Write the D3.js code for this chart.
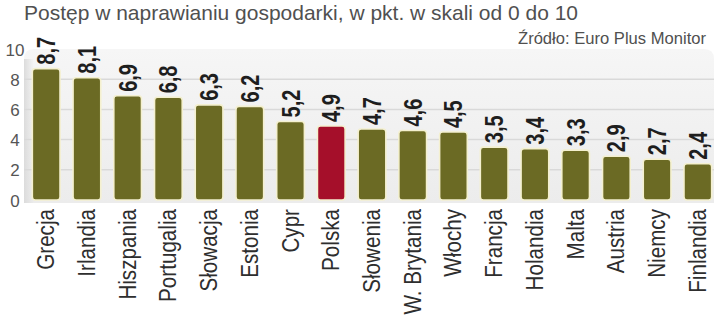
<!DOCTYPE html>
<html><head><meta charset="utf-8">
<script src="https://cdn.jsdelivr.net/npm/d3@7"></script>
<style>html,body{margin:0;padding:0;background:#fff;}svg{display:block;}</style>
</head><body>
<svg id="c" width="720" height="322"></svg>
<script>
const categories = ["Grecja","Irlandia","Hiszpania","Portugalia","Słowacja","Estonia","Cypr","Polska","Słowenia","W. Brytania","Włochy","Francja","Holandia","Malta","Austria","Niemcy","Finlandia"];
const values = [8.7,8.1,6.9,6.8,6.3,6.2,5.2,4.9,4.7,4.6,4.5,3.5,3.4,3.3,2.9,2.7,2.4];
const highlight = ["Polska"];
const yTicks = [0,2,4,6,8,10];
const title = "Postęp w naprawianiu gospodarki, w pkt. w skali od 0 do 10";
const source = "Źródło: Euro Plus Monitor";

const svg = d3.select("#c");
const sans = "'Liberation Sans',Arial,sans-serif";

const x = d3.scaleBand().domain(categories).range([25, 719]).paddingInner(0.32).paddingOuter(0.18);
const y = d3.scaleLinear().domain([0,10]).range([200,49]);

const defs = svg.append("defs");
const g1 = defs.append("linearGradient").attr("id","pg").attr("x1",0).attr("y1",0).attr("x2",0).attr("y2",1);
g1.append("stop").attr("offset","0%").attr("stop-color","#f6f6f6");
g1.append("stop").attr("offset","100%").attr("stop-color","#ececec");
const g2 = defs.append("linearGradient").attr("id","sh").attr("x1",0).attr("y1",0).attr("x2",1).attr("y2",0);
g2.append("stop").attr("offset","0%").attr("stop-color","#dcdcdc");
g2.append("stop").attr("offset","100%").attr("stop-color","#dcdcdc").attr("stop-opacity",0);

// panel
const px0 = 24, px1 = 714, py0 = y(10), py1 = y(0) + 3, r = 10;
svg.append("path")
  .attr("d", `M${px0},${py1} L${px0},${py0+r} Q${px0},${py0} ${px0+r},${py0} L${px1-r},${py0} Q${px1},${py0} ${px1},${py0+r} L${px1},${py1} Z`)
  .attr("fill","url(#pg)");
svg.append("rect").attr("x",px0).attr("y",py0+r).attr("width",10).attr("height",py1-py0-r).attr("fill","url(#sh)");

// gridlines
svg.append("g").selectAll("line").data(yTicks.filter(d => d>0 && d<10)).join("line")
  .attr("x1",px0).attr("x2",px1).attr("y1",d=>y(d)).attr("y2",d=>y(d))
  .attr("stroke","#d9d9d9").attr("stroke-width",1.5);

// y axis labels
const yAxis = d3.axisLeft(y).tickValues(yTicks).tickSize(0).tickFormat(d3.format("d"));
const ya = svg.append("g").attr("transform","translate(22,0)").call(yAxis);
ya.select(".domain").remove();
ya.selectAll("text").attr("font-family",sans).attr("font-size",17)
  .attr("fill","#555").attr("text-anchor","middle").attr("x",-7).attr("dy","0.36em");

// bars
svg.append("g").selectAll("rect").data(categories).join("rect")
  .attr("x", d => x(d)).attr("width", x.bandwidth())
  .attr("y", (d,i) => y(values[i])).attr("height", (d,i) => y(0) - y(values[i]))
  .attr("rx",3).attr("ry",3)
  .attr("fill", d => highlight.includes(d) ? "#a50f2a" : "#6b6a24")
  .attr("stroke","#f4f0cf").attr("stroke-width",1.6);

// value labels
svg.append("g").selectAll("text").data(categories).join("text")
  .attr("transform", (d,i) => `translate(${x(d)+x.bandwidth()/2+9},${y(values[i])-4}) rotate(-90) scale(0.8,1)`)
  .attr("font-family",sans).attr("font-weight","bold").attr("font-size",25).attr("fill","#1e1e1e")
  .text((d,i) => d3.format(".1f")(values[i]).replace(".",","));

// category labels
svg.append("g").selectAll("text").data(categories).join("text")
  .attr("transform", d => `translate(${x(d)+x.bandwidth()/2+8},${209}) rotate(-90) scale(0.86,1)`)
  .attr("text-anchor","end")
  .attr("font-family",sans).attr("font-size",24).attr("fill","#2e2e2e")
  .text(d => d);

// title & source
svg.append("text").attr("x",24).attr("y",20).attr("font-family",sans).attr("font-size",21)
  .attr("textLength",554).attr("lengthAdjust","spacingAndGlyphs")
  .attr("fill","#505050").text(title);
svg.append("text").attr("x",706).attr("y",44).attr("text-anchor","end").attr("font-family",sans)
  .attr("font-size",17).attr("textLength",188).attr("lengthAdjust","spacingAndGlyphs")
  .attr("fill","#505050").text(source);
</script>
</body></html>
